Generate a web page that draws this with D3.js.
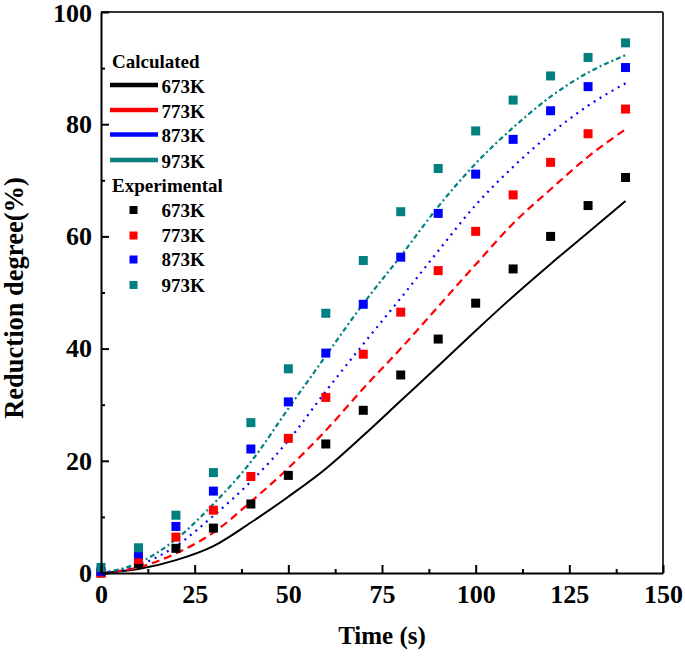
<!DOCTYPE html>
<html>
<head>
<meta charset="utf-8">
<script src="https://cdn.jsdelivr.net/npm/d3@7"></script>
<style>
  html, body { margin: 0; padding: 0; background: #fff; }
  svg { display: block; }
  text { font-family: "Liberation Serif", "DejaVu Serif", serif; font-weight: bold; fill: #000; }
</style>
</head>
<body>
<svg id="chart" width="685" height="656"></svg>
<script>
// ---------------- data ----------------
const times = [0, 10, 20, 30, 40, 50, 60, 70, 80, 90, 100, 110, 120, 130, 140];

const exp673 = [0, 1.7, 4.4, 8.0, 12.3, 17.4, 23.0, 29.0, 35.3, 41.7, 48.1, 54.2, 60.0, 65.5, 70.5];
const exp773 = [0, 2.4, 6.4, 11.2, 17.2, 24.0, 31.3, 39.0, 46.5, 53.9, 60.9, 67.4, 73.2, 78.3, 82.7];
const exp873 = [0.3, 3.4, 8.3, 14.6, 22.1, 30.5, 39.2, 47.9, 56.3, 64.1, 71.1, 77.3, 82.4, 86.7, 90.1];
const exp973 = [1.0, 4.5, 10.3, 17.9, 26.8, 36.4, 46.3, 55.7, 64.4, 72.1, 78.8, 84.3, 88.6, 91.9, 94.5];

const calc673 = [0, 0.7, 2.3, 4.8, 9.0, 13.6, 18.6, 24.5, 30.7, 36.9, 43.2, 49.3, 55.1, 60.7, 66.3];
const calc773 = [0, 1.0, 3.5, 7.2, 12.7, 18.7, 25.4, 32.9, 40.0, 47.5, 55.0, 62.3, 68.4, 74.2, 79.1];
const calc873 = [0, 1.4, 4.8, 10.2, 16.3, 23.6, 32.4, 40.8, 49.0, 57.4, 65.6, 72.4, 78.3, 83.3, 87.3];
const calc973 = [0, 1.8, 6.0, 12.3, 19.8, 29.3, 38.7, 48.0, 56.5, 65.3, 73.0, 79.4, 84.9, 89.2, 92.3];

const seriesLabels = ["673K", "773K", "873K", "973K"];
const seriesColors = ["#000000", "#ff0000", "#0000ff", "#008080"];
const lineDashes = [null, "8,5", "2,5", "5,3,2,3"];

const xTicks = [0, 25, 50, 75, 100, 125, 150];
const xMinor = [12.5, 37.5, 62.5, 87.5, 112.5, 137.5];
const yTicks = [0, 20, 40, 60, 80, 100];
const yMinor = [10, 30, 50, 70, 90];

const xTitle = "Time (s)";
const yTitle = "Reduction degree(%)";
const legendTitleCalc = "Calculated";
const legendTitleExp = "Experimental";

// ---------------- layout ----------------
const svg = d3.select("#chart");
const x = d3.scaleLinear().domain([0, 150]).range([101, 663]);
const y = d3.scaleLinear().domain([0, 100]).range([573, 12]);

const calcSets = [calc673, calc773, calc873, calc973];
const expSets = [exp673, exp773, exp873, exp973];

// frame top/right
svg.append("line").attr("x1", x(0)).attr("x2", x(150)).attr("y1", y(100)).attr("y2", y(100))
  .attr("stroke", "#333").attr("stroke-width", 2);
svg.append("line").attr("x1", x(150)).attr("x2", x(150)).attr("y1", y(100)).attr("y2", y(0))
  .attr("stroke", "#333").attr("stroke-width", 2);

// calculated lines
const line = d3.line().x(d => x(d[0])).y(d => y(d[1])).curve(d3.curveMonotoneX);
calcSets.forEach((s, i) => {
  svg.append("path")
    .datum(times.map((t, j) => [t, s[j]]))
    .attr("d", line)
    .attr("fill", "none")
    .attr("stroke", seriesColors[i])
    .attr("stroke-width", i === 0 ? 2 : 2.2)
    .attr("stroke-dasharray", lineDashes[i])
    .attr("stroke-linecap", "butt");
});

// experimental markers
const ms = 9;
expSets.forEach((s, i) => {
  svg.append("g").selectAll("rect")
    .data(times.map((t, j) => [t, s[j]]))
    .join("rect")
    .attr("x", d => x(d[0]) - ms / 2)
    .attr("y", d => y(d[1]) - ms / 2)
    .attr("width", ms).attr("height", ms)
    .attr("fill", seriesColors[i]);
});

// axes
const xAxis = svg.append("g").attr("transform", `translate(0,${y(0)})`)
  .call(d3.axisBottom(x).tickValues(xTicks).tickSizeInner(-8).tickSizeOuter(0).tickPadding(12).tickFormat(d3.format("d")));
const xAxisMinor = svg.append("g").attr("transform", `translate(0,${y(0)})`)
  .call(d3.axisBottom(x).tickValues(xMinor).tickSizeInner(-4).tickSizeOuter(0).tickFormat(""));
const yAxis = svg.append("g").attr("transform", `translate(${x(0)},0)`)
  .call(d3.axisLeft(y).tickValues(yTicks).tickSizeInner(-8).tickSizeOuter(0).tickPadding(9).tickFormat(d3.format("d")));
const yAxisMinor = svg.append("g").attr("transform", `translate(${x(0)},0)`)
  .call(d3.axisLeft(y).tickValues(yMinor).tickSizeInner(-4).tickSizeOuter(0).tickFormat(""));

[xAxis, xAxisMinor, yAxis, yAxisMinor].forEach(g => {
  g.attr("font-family", null).attr("font-size", null);
  g.select(".domain").attr("stroke", "#000").attr("stroke-width", 2);
  g.selectAll(".tick line").attr("stroke", "#000").attr("stroke-width", 2);
  g.selectAll(".tick text").attr("font-size", 26).attr("fill", "#000");
});
xAxisMinor.select(".domain").remove();
yAxisMinor.select(".domain").remove();
// keep the top "100" label inside the picture
yAxis.selectAll(".tick text").filter(d => d === 100).attr("dy", "0.36em");

// axis titles
svg.append("text").attr("x", 382).attr("y", 644).attr("text-anchor", "middle")
  .attr("font-size", 25).text(xTitle);
svg.append("text").attr("transform", "translate(23,298) rotate(-90)").attr("text-anchor", "middle")
  .attr("font-size", 26.5).text(yTitle);

// legend
const lg = svg.append("g").attr("font-size", 19);
lg.append("text").attr("x", 112).attr("y", 68).text(legendTitleCalc);
const calcRowY = [85, 110, 134.5, 160];
seriesLabels.forEach((lab, i) => {
  lg.append("line").attr("x1", 110).attr("x2", 158).attr("y1", calcRowY[i]).attr("y2", calcRowY[i])
    .attr("stroke", seriesColors[i]).attr("stroke-width", 4.5);
  lg.append("text").attr("x", 161.5).attr("y", calcRowY[i] + 7.5).text(lab);
});
lg.append("text").attr("x", 112).attr("y", 192).text(legendTitleExp);
const expRowY = [210, 235.5, 259.5, 285];
seriesLabels.forEach((lab, i) => {
  lg.append("rect").attr("x", 133.5 - 4).attr("y", expRowY[i] - 4).attr("width", 8).attr("height", 8)
    .attr("fill", seriesColors[i]);
  lg.append("text").attr("x", 161.5).attr("y", expRowY[i] + 6.5).text(lab);
});
</script>
</body>
</html>
